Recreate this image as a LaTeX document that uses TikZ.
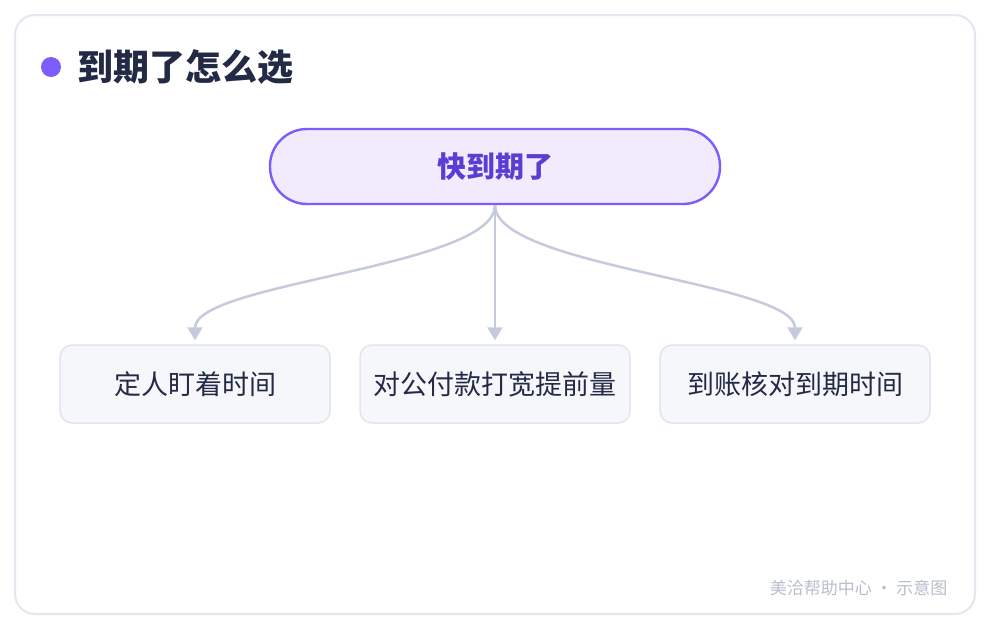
\documentclass[tikz,border=0pt]{standalone}
\usepackage{fontspec}
\setmainfont{Noto Sans CJK SC}
\usetikzlibrary{arrows.meta}

\definecolor{framegray}{HTML}{E4E7F0}
\definecolor{violet}{HTML}{7C5CFA}
\definecolor{violetfill}{HTML}{F0ECFE}
\definecolor{violettext}{HTML}{5A3DD4}
\definecolor{ink}{HTML}{232A45}
\definecolor{linkgray}{HTML}{C5CBDC}
\definecolor{boxfill}{HTML}{F5F7FB}
\definecolor{boxline}{HTML}{E2E6EE}
\definecolor{notegray}{HTML}{B9BECD}

\begin{document}
\begin{tikzpicture}[x=1pt,y=-1pt,
    topbox/.style={draw=violet, line width=2.4pt, fill=violetfill, rounded corners=37pt,
        minimum width=450pt, minimum height=75pt, text=violettext,
        font=\fontsize{29}{34}\selectfont\bfseries},
    choice/.style={draw=boxline, line width=1.5pt, fill=boxfill, rounded corners=12pt,
        minimum width=270pt, minimum height=78pt, text=ink,
        font=\fontsize{27}{32}\selectfont},
    link/.style={draw=linkgray, line width=2.5pt, -{Triangle[width=15pt,length=13pt]},
        shorten >=4pt}]

        \useasboundingbox (0,0) rectangle (990,630);

        % Frame
        \draw[draw=framegray, line width=2pt, fill=white, rounded corners=20pt] (15,15) rectangle (975,614);

        % Title
        \fill[violet] (51,67) circle (10);
        \node[anchor=west, text=ink, font=\fontsize{36}{41}\selectfont\bfseries] (title) at (74,67) {到期了怎么选};

        % Top node
        \node[topbox] (due) at (495,166.5) {快到期了};

        % Choices
        \node[choice] (watch) at (195,384) {定人盯着时间};
        \node[choice] (margin) at (495,384) {对公付款打宽提前量};
        \node[choice] (check) at (795,384) {到账核对到期时间};

        % Links
        \foreach \c in {watch,margin,check}
        \draw[link] (due.south) .. controls +(0,62) and +(0,-62) .. (\c.north);

        % Note
        \node[anchor=east, text=notegray, font=\fontsize{17}{20}\selectfont] (note) at (951,588) {美洽帮助中心 · 示意图};

        \end{tikzpicture}
\end{document}
